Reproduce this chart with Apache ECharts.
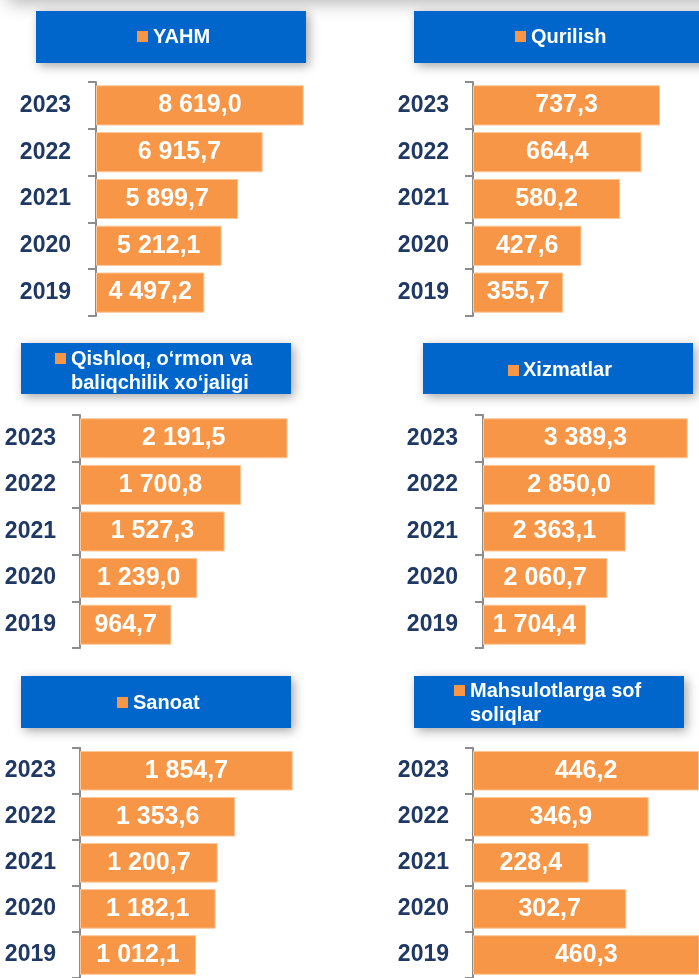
<!DOCTYPE html>
<html>
<head>
<meta charset="utf-8">
<script src="https://cdn.jsdelivr.net/npm/echarts@6/dist/echarts.min.js"></script>
<style>
html,body{margin:0;padding:0;background:#fff;}
#chart{width:699px;height:978px;}
</style>
</head>
<body>
<div id="chart"></div>
<script>
// ---- data ----
const years = ['2019', '2020', '2021', '2022', '2023'];
const yahm = [4497.2, 5212.1, 5899.7, 6915.7, 8619.0];
const qurilish = [355.7, 427.6, 580.2, 664.4, 737.3];
const qishloq = [964.7, 1239.0, 1527.3, 1700.8, 2191.5];
const xizmatlar = [1704.4, 2060.7, 2363.1, 2850.0, 3389.3];
const sanoat = [1012.1, 1182.1, 1200.7, 1353.6, 1854.7];
const soliqlar = [460.3, 302.7, 228.4, 346.9, 446.2];
const titles = ['YAHM', 'Qurilish', 'Qishloq, o‘rmon va\nbaliqchilik xo‘jaligi', 'Xizmatlar', 'Sanoat', 'Mahsulotlarga sof\nsoliqlar'];
const seriesData = [yahm, qurilish, qishloq, xizmatlar, sanoat, soliqlar];
const axisMax = [10000, 891, 2500, 3576, 2000, 446.2];

// ---- layout ----
const panels = [
  {left: 96,  top: 82,    width: 241,   height: 234, margin: 25, box: [36, 11, 270, 52],   sq: [137, 31],  tx: [153, 37]},
  {left: 473, top: 82,    width: 226,   height: 234, margin: 24, box: [414, 11, 300, 52],  sq: [515, 31],  tx: [531, 37]},
  {left: 80,  top: 415,   width: 236.8, height: 233, margin: 24, box: [21, 343, 270, 51],  sq: [55, 353],  tx: [71, 371.5]},
  {left: 483, top: 415,   width: 216,   height: 233, margin: 25, box: [423, 343, 270, 51], sq: [508, 365], tx: [523, 370]},
  {left: 80,  top: 747.7, width: 229.4, height: 233.3, margin: 24, box: [21, 676, 270, 52],  sq: [117, 697], tx: [133, 703]},
  {left: 473, top: 747.7, width: 226,   height: 233.3, margin: 24, box: [414, 676, 270, 52], sq: [454, 685], tx: [470, 703]}
];

const ORANGE = '#F79646';
const BLUE = '#0066CC';
const NAVY = '#1F3864';
const FONT = "'Liberation Sans', Arial, sans-serif";

function fmt(v) {
  const parts = v.toFixed(1).split('.');
  const intPart = parts[0].replace(/\B(?=(\d{3})+(?!\d))/g, ' ');
  return intPart + ',' + parts[1];
}

const grids = [], xAxes = [], yAxes = [], series = [], graphics = [];

graphics.push({
  type: 'rect', shape: {x: 8, y: -40, width: 720, height: 40},
  style: {fill: '#fff', shadowBlur: 18, shadowOffsetY: 3, shadowColor: 'rgba(0,0,0,0.3)'}, z: 0
});

panels.forEach((p, i) => {
  grids.push({left: p.left, top: p.top, width: p.width, height: p.height, containLabel: false});
  xAxes.push({type: 'value', gridIndex: i, min: 0, max: axisMax[i], show: false, splitLine: {show: false}});
  yAxes.push({
    type: 'category', gridIndex: i, data: years,
    axisLine: {show: true, lineStyle: {color: '#8C8C8C', width: 2}},
    axisTick: {show: true, length: 8, lineStyle: {color: '#8C8C8C', width: 2}},
    axisLabel: {margin: p.margin, color: NAVY, fontFamily: FONT, fontWeight: 'bold', fontSize: 23}
  });
  series.push({
    type: 'bar', name: titles[i].replace('\n', ' '), xAxisIndex: i, yAxisIndex: i,
    data: seriesData[i], barCategoryGap: '14%',
    itemStyle: {color: ORANGE, borderColor: '#FBC99C', borderWidth: 1},
    label: {
      show: true, position: 'inside', color: '#fff', fontFamily: FONT, fontWeight: 'bold', fontSize: 25,
      formatter: (d) => fmt(d.value)
    },
    animation: false
  });
  graphics.push({
    type: 'rect', shape: {x: p.box[0], y: p.box[1], width: p.box[2], height: p.box[3]},
    style: {fill: BLUE, shadowBlur: 10, shadowOffsetX: 3, shadowOffsetY: 3, shadowColor: 'rgba(0,0,0,0.35)'}, z: 5
  });
  graphics.push({
    type: 'rect', shape: {x: p.sq[0], y: p.sq[1], width: 11, height: 11},
    style: {fill: ORANGE}, z: 6
  });
  graphics.push({
    type: 'text', x: p.tx[0], y: p.tx[1], z: 6,
    style: {
      text: titles[i], fill: '#fff', font: "bold 20px 'Liberation Sans', Arial, sans-serif",
      textAlign: 'left', textVerticalAlign: 'middle', lineHeight: 24
    }
  });
});

const chart = echarts.init(document.getElementById('chart'), null, {renderer: 'canvas'});
chart.setOption({
  animation: false,
  grid: grids, xAxis: xAxes, yAxis: yAxes, series: series, graphic: graphics
});
</script>
</body>
</html>
